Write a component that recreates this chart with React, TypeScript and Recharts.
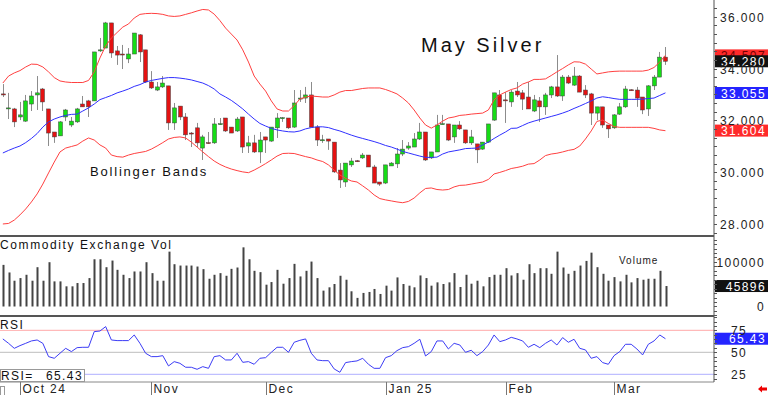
import React from 'react';
import { ComposedChart, Bar, Line, XAxis, YAxis, ReferenceLine } from 'recharts';

// daily candles, 26 Sep 2024 .. 14 Mar 2025
const openP = [33.02,32.46,32.44,32.13,31.97,32.63,32.98,33.21,32.44,31.55, 31.40,32.13,31.82,31.94,32.63,32.75,32.75,34.68,34.79,35.76, 34.68,34.56,34.37,34.56,35.30,34.72,33.48,33.17,33.29,33.33, 31.90,32.55,32.13,31.51,31.71,30.93,31.14,31.13,31.85,32.09, 31.74,31.59,32.13,31.01,31.13,30.78,31.36,31.20,31.71,32.08, 32.09,31.74,32.82,32.86,32.98,31.74,31.23,31.28,31.16,30.08, 29.62,30.28,30.44,30.55,30.66,30.20,29.62,29.58,30.24,30.32, 30.70,30.93,30.97,31.28,31.55,30.55,30.78,31.85,31.86,31.36, 31.82,31.63,31.13,31.09,30.89,31.16,32.01,32.98,32.79,32.71, 33.13,33.06,32.90,32.36,32.75,32.52,32.98,33.29,32.94,33.67, 33.36,33.71,33.17,33.02,32.28,32.52,31.82,31.71,32.24,32.52, 33.18,33.17,32.90,32.44,33.33,33.67,34.44];
const highP = [33.40,33.06,32.48,32.71,32.98,33.13,33.71,33.25,32.44,31.55, 31.97,32.44,32.13,32.48,32.94,32.79,34.64,35.18,35.80,35.76, 34.87,34.91,34.79,35.37,35.33,34.72,33.90,33.48,33.71,33.33, 32.67,32.55,32.28,31.55,31.90,31.44,31.55,32.09,32.09,32.09, 31.74,32.13,32.13,31.40,31.44,31.55,31.36,31.74,32.28,32.13, 32.09,33.17,33.17,33.29,33.48,31.82,31.44,31.28,31.16,30.35, 30.35,30.55,30.47,30.74,30.66,30.28,29.62,30.28,30.39,30.93, 31.24,31.16,31.51,31.90,31.55,30.78,32.21,32.21,31.86,31.82, 31.97,31.63,31.63,31.09,31.16,31.86,33.06,33.17,33.09,33.17, 33.48,33.17,33.48,32.98,32.90,33.06,33.33,34.52,33.75,33.75, 34.06,33.75,33.36,33.06,32.52,32.52,31.82,32.24,32.67,33.33, 33.20,33.29,32.90,33.36,33.75,34.64,34.83];
const lowP = [32.90,32.05,31.74,32.01,31.94,32.36,32.40,32.36,31.01,31.13, 31.40,31.97,31.74,31.90,32.52,32.13,32.75,34.64,34.79,34.41, 34.14,33.98,34.21,34.56,34.25,33.44,33.21,33.13,33.25,31.63, 31.63,32.01,31.24,30.97,30.97,30.47,31.09,31.09,31.82,31.55, 31.51,31.55,30.74,30.74,30.74,30.35,30.74,31.17,31.32,31.94, 31.67,31.71,32.71,32.67,31.74,31.01,31.13,30.86,29.97,29.39, 29.43,30.20,30.39,30.51,30.20,29.58,29.47,29.54,30.24,30.16, 30.62,30.86,30.97,31.24,30.43,30.51,30.78,31.84,31.20,31.13, 31.63,31.09,31.05,30.35,30.86,31.13,31.98,32.52,31.90,32.52, 32.90,32.40,32.44,32.32,31.94,32.21,32.86,32.90,32.75,33.40, 33.33,33.09,32.86,31.82,32.01,31.71,31.32,31.67,32.21,32.48, 33.14,32.52,32.24,32.17,33.17,33.67,34.14];
const closeP = [32.98,32.48,31.94,32.21,32.75,32.94,33.06,32.71,31.51,31.36, 31.94,32.40,31.97,32.44,32.52,32.52,34.64,34.72,35.76,34.60, 34.52,34.55,34.56,35.37,34.64,33.48,33.25,33.29,33.44,31.90, 32.48,32.13,31.44,31.50,31.13,31.36,31.12,31.86,31.87,31.59, 31.51,32.05,30.97,31.13,30.78,31.24,31.24,31.74,32.09,32.10, 31.71,32.67,32.86,32.98,31.74,31.24,31.25,31.20,30.01,29.70, 30.35,30.43,30.42,30.66,30.20,29.58,29.54,30.28,30.35,30.70, 30.89,31.01,31.28,31.55,30.47,30.78,31.82,31.87,31.24,31.82, 31.67,31.13,31.36,30.86,31.16,31.86,33.06,32.52,32.77,33.09, 32.98,32.82,32.44,32.79,32.52,32.98,33.29,32.94,33.67,33.44, 33.71,33.09,32.98,32.28,32.52,31.82,31.67,32.21,32.52,33.21, 33.16,32.86,32.40,33.33,33.67,34.44,34.28];

const upperBand = [33.44,33.71,33.83,33.92,34.06,34.17,34.16,34.06,33.87,33.65, 33.52,33.48,33.46,33.46,33.46,33.54,33.87,34.41,34.87,35.18, 35.39,35.60,35.72,35.95,36.09,36.12,36.13,36.12,36.09,36.03, 36.01,36.03,36.09,36.15,36.22,36.28,36.26,36.10,35.85,35.56, 35.33,35.10,34.72,34.25,33.71,33.40,33.13,32.75,32.44,32.36, 32.36,32.57,32.82,32.90,32.94,32.92,32.90,32.90,32.98,33.09, 33.15,33.15,33.19,33.23,33.25,33.25,33.25,33.19,33.11,33.02, 32.86,32.67,32.40,32.09,31.82,31.70,31.82,31.97,32.09,32.13, 32.19,32.21,32.24,32.26,32.28,32.40,32.79,32.98,33.09,33.19, 33.25,33.40,33.48,33.58,33.58,33.60,33.73,33.87,34.00,34.14, 34.26,34.25,34.17,33.98,33.79,33.83,33.87,33.89,33.90,33.90, 33.90,33.90,33.90,33.94,34.04,34.25,34.51];
const midBand = [30.74,30.84,30.93,31.01,31.14,31.30,31.49,31.74,31.94,32.05, 32.13,32.19,32.23,32.24,32.36,32.48,32.63,32.80,32.88,32.96, 33.06,33.13,33.21,33.31,33.38,33.48,33.54,33.58,33.62,33.65, 33.65,33.63,33.60,33.56,33.50,33.44,33.34,33.21,33.02,32.90, 32.77,32.61,32.44,32.24,32.05,31.88,31.78,31.69,31.63,31.59, 31.56,31.55,31.59,31.67,31.72,31.75,31.75,31.72,31.65,31.59, 31.51,31.43,31.36,31.30,31.24,31.18,31.11,31.03,30.97,30.89, 30.80,30.74,30.68,30.62,30.57,30.57,30.58,30.70,30.78,30.82, 30.86,30.91,30.92,30.93,31.05,31.16,31.30,31.43,31.55,31.69, 31.70,31.80,31.90,31.97,32.03,32.09,32.15,32.21,32.28,32.36, 32.46,32.55,32.65,32.75,32.86,32.91,32.88,32.84,32.81,32.81, 32.81,32.81,32.82,32.84,32.86,32.96,33.06];
const lowerBand = [28.00,28.02,28.15,28.35,28.58,28.85,29.16,29.54,29.97,30.39, 30.78,30.93,30.99,31.05,31.20,31.32,31.24,31.05,30.93,30.66, 30.60,30.58,30.66,30.72,30.76,30.80,30.89,31.01,31.14,31.28, 31.34,31.36,31.32,31.16,30.97,30.78,30.60,30.43,30.30,30.20, 30.12,30.06,30.01,29.98,30.08,30.20,30.33,30.47,30.62,30.72, 30.73,30.72,30.66,30.60,30.55,30.47,30.41,30.28,30.08,29.89, 29.76,29.66,29.62,29.47,29.31,29.12,28.98,28.93,28.89,28.85, 28.82,28.87,29.00,29.20,29.37,29.39,29.33,29.31,29.33,29.43, 29.49,29.50,29.54,29.58,29.62,29.72,29.93,29.99,30.06,30.14, 30.18,30.23,30.31,30.33,30.47,30.64,30.70,30.73,30.78,30.84, 30.88,31.01,31.28,31.59,31.96,32.01,31.88,31.76,31.73,31.73, 31.73,31.73,31.73,31.73,31.69,31.63,31.60];

const volume = [93300,76300,57800,63700,71100,57800,88100,57800,99300,56300, 56300,45200,45200,52600,52600,63700,105900,105900,88100,103000, 82200,71100,63700,78500,78500,99300,74800,57800,57800,123000, 94800,91800,91800,91800,89600,83700,62200,71100,74800,68900, 84400,87400,132600,105900,80000,77000,48900,54800,82200,51100, 63700,95600,67400,80000,100700,63700,35600,43000,50400,68900, 60000,34100,19300,30400,32600,39300,28100,46700,35600,65200, 50400,46700,43000,69600,63700,46700,54100,50400,54100,74800, 43700,71100,51100,57800,45200,65900,71100,71100,85900,69600, 74800,60000,94800,74800,85900,85900,73300,123000,87400,73300, 80000,91800,102200,120700,88100,73300,57800,65900,56300,71100, 54100,63700,60000,62200,62200,80000,45896];

const rsi = [65.2,60.2,54.5,57.6,60.2,62.9,64.0,60.2,45.1,43.2, 48.9,54.5,50.8,55.3,55.7,55.7,73.5,74.2,79.2,64.0, 63.3,63.3,63.3,69.7,60.2,48.9,45.1,45.1,46.2,34.5, 39.4,37.5,33.0,33.0,30.7,33.7,31.8,45.1,46.2,41.3, 41.3,48.9,38.6,39.4,36.4,43.2,43.9,50.0,55.7,55.7, 50.0,61.4,63.6,65.2,48.9,41.3,40.5,40.5,31.1,27.3, 38.3,39.4,40.2,43.2,36.4,31.8,31.8,43.9,46.2,51.9, 55.3,56.4,60.2,64.8,45.8,50.8,62.9,62.9,53.8,60.2, 58.3,50.0,52.3,46.2,50.8,58.3,69.7,62.1,64.0,67.0, 65.2,62.9,55.7,59.1,55.3,60.2,64.0,58.3,66.7,61.4, 64.8,54.5,52.7,43.2,45.1,38.3,36.4,46.2,50.8,59.1, 59.1,53.8,47.0,59.1,62.9,69.7,65.43];

// x axis: index of first session of each month
const monthIdx = [3, 26, 46, 67, 88, 107];
const monthLabels = ['Oct 24', 'Nov', 'Dec', 'Jan 25', 'Feb', 'Mar'];
const priceLabels = [28, 30, 32, 34, 36];
const volLabels = [0, 100000];
const rsiLabels = [25, 50, 75];

const SLOTS = 125; // 117 sessions + empty space on the right
const FONT = '"Liberation Sans", Arial, sans-serif';

const rows = Array.from({ length: SLOTS }, (_, i) =>
  i < openP.length
    ? { i, o: openP[i], h: highP[i], l: lowP[i], c: closeP[i], up: upperBand[i], mid: midBand[i], lo: lowerBand[i], vol: volume[i], rsi: rsi[i] }
    : { i }
);

const priceMinor: number[] = [];
for (let k = 83; k <= 109; k++) priceMinor.push(k / 3);
const volMinor: number[] = [];
for (let k = -2; k <= 15; k++) volMinor.push(k * 10000);
const rsiMinor: number[] = [];
for (let k = 4; k <= 18; k++) rsiMinor.push(k * 5);

const axisText = { fontFamily: FONT, fontSize: 12, letterSpacing: 1.4, fill: '#222' };

const Candle = (p: any) => {
  const r = p.payload;
  if (!r || r.o == null || !p.height) return null;
  const span = r.h - r.l || 1;
  const h = Math.abs(p.height);
  const top = Math.min(p.y, p.y + p.height);
  const py = (v: number) => top + ((r.h - v) / span) * h;
  const cx = Math.round(p.x + p.width / 2);
  const bTop = py(Math.max(r.o, r.c));
  const bBot = py(Math.min(r.o, r.c));
  const upDay = r.c >= r.o;
  return (
    <g>
      <line x1={cx + 0.5} x2={cx + 0.5} y1={top} y2={top + h} stroke="#8c8c8c" />
      <rect x={cx - 1.5} y={bTop} width={4} height={Math.max(bBot - bTop, 1)}
        fill={upDay ? '#16dc16' : '#e41212'} stroke="#404040" strokeWidth={0.5} />
    </g>
  );
};

const VolBar = (p: any) => {
  if (!p.payload || p.payload.vol == null) return null;
  const cx = Math.round(p.x + p.width / 2);
  const top = Math.min(p.y, p.y + p.height);
  return <rect x={cx - 0.5} y={top} width={2} height={Math.abs(p.height)} fill="#444" />;
};

const makeTick = (labels: number[], fmt: (v: number) => string, anchorEnd: boolean) => (p: any) => {
  const v = p.payload.value;
  const y = Math.round(p.y) + 0.5;
  const show = labels.some((l) => Math.abs(l - v) < 1e-6);
  return (
    <g>
      <line x1={p.x} x2={p.x + 3} y1={y} y2={y} stroke="#555" />
      {show && (
        <text x={anchorEnd ? p.x + 51 : p.x + 17} y={y + 4.5} textAnchor={anchorEnd ? 'end' : 'start'} {...axisText}>
          {fmt(v)}
        </text>
      )}
    </g>
  );
};

const tag = (bg: string, fg: string, text: string) => (p: any) => {
  const vb = p.viewBox || {};
  const x = (vb.x || 0) + (vb.width || 0);
  const y = vb.y || 0;
  return (
    <g>
      <rect x={x + 1} y={y - 6} width={54} height={12} fill={bg} />
      <text x={x + 52} y={y + 4.5} textAnchor="end" {...axisText} fill={fg}>{text}</text>
    </g>
  );
};

const MonthTick = (p: any) => {
  const k = monthIdx.indexOf(p.payload.value);
  const x = Math.round(p.x) + 0.5;
  return (
    <g>
      <line x1={x} x2={x} y1={p.y} y2={p.y + 13} stroke="#777" />
      <text x={x + 2} y={p.y + 11} {...axisText}>{monthLabels[k]}</text>
    </g>
  );
};

const noMargin = { top: 0, right: 0, left: 0, bottom: 0 };

export default function App() {
  return (
    <div style={{ position: 'relative', width: 768, height: 395, background: '#fff', overflow: 'hidden' }}>
      <style>{'body{margin:0}'}</style>

      <div style={{ position: 'absolute', left: 0, top: 0 }}>
        <ComposedChart width={768} height={237} data={rows} margin={noMargin}>
          <XAxis dataKey="i" type="category" scale="band" hide />
          <YAxis orientation="right" width={54} type="number" domain={[27.497, 36.645]} allowDataOverflow
            ticks={priceMinor} interval={0} tickSize={0} tickMargin={0} tickLine={false}
            axisLine={{ stroke: '#505050' }} tick={makeTick(priceLabels, (v) => v.toFixed(3), true)} />
          <Bar dataKey={(r: any) => (r.o == null ? null : [r.l, r.h])} barSize={5} shape={Candle} activeBar={false} isAnimationActive={false} />
          <Line dataKey="up" stroke="#ff4040" strokeWidth={1} dot={false} activeDot={false} isAnimationActive={false} />
          <Line dataKey="mid" stroke="#3030ff" strokeWidth={1} dot={false} activeDot={false} isAnimationActive={false} />
          <Line dataKey="lo" stroke="#ff4040" strokeWidth={1} dot={false} activeDot={false} isAnimationActive={false} />
          <ReferenceLine y={34.507} stroke="none" label={tag('#ff2a2a', '#700', '34.507')} />
          <ReferenceLine y={34.28} stroke="none" label={tag('#111', '#fff', '34.280')} />
          <ReferenceLine y={33.055} stroke="none" label={tag('#2424ff', '#fff', '33.055')} />
          <ReferenceLine y={31.604} stroke="none" label={tag('#ff2a2a', '#fff', '31.604')} />
        </ComposedChart>
      </div>

      <div style={{ position: 'absolute', left: 0, top: 237 }}>
        <ComposedChart width={768} height={79} data={rows} margin={noMargin}>
          <XAxis dataKey="i" type="category" scale="band" hide />
          <YAxis orientation="right" width={54} type="number" domain={[-21300, 155800]} allowDataOverflow
            ticks={volMinor} interval={0} tickSize={0} tickMargin={0} tickLine={false}
            axisLine={{ stroke: '#505050' }} tick={makeTick(volLabels, (v) => String(v), true)} />
          <Bar dataKey="vol" barSize={2} shape={VolBar} activeBar={false} isAnimationActive={false} />
          <ReferenceLine y={45896} stroke="none" label={tag('#111', '#fff', '45896')} />
        </ComposedChart>
      </div>

      <div style={{ position: 'absolute', left: 0, top: 316 }}>
        <ComposedChart width={768} height={79} data={rows} margin={noMargin}>
          <XAxis dataKey="i" type="category" scale="band" height={13} ticks={monthIdx} interval={0}
            tickSize={0} tickMargin={0} tickLine={false} axisLine={{ stroke: '#888' }} tick={MonthTick} />
          <YAxis orientation="right" width={54} type="number" domain={[16.25, 91.25]} allowDataOverflow
            ticks={rsiMinor} interval={0} tickSize={0} tickMargin={0} tickLine={false}
            axisLine={{ stroke: '#505050' }} tick={makeTick(rsiLabels, (v) => String(v), false)} />
          <ReferenceLine y={75} stroke="#ffa8a8" />
          <ReferenceLine y={50} stroke="#bdbdbd" />
          <ReferenceLine y={25} stroke="#b0b0ff" />
          <Bar dataKey="rsi" fill="none" activeBar={false} isAnimationActive={false} />
          <Line dataKey="rsi" stroke="#3c3cf5" strokeWidth={1} dot={false} activeDot={false} isAnimationActive={false} />
          <ReferenceLine y={65.43} stroke="none" label={tag('#2424ff', '#fff', '65.43')} />
        </ComposedChart>
      </div>

      <svg width={768} height={395} style={{ position: 'absolute', left: 0, top: 0, pointerEvents: 'none' }}>
        <text x={421} y={52} fontFamily={FONT} fontSize={20} letterSpacing={3} fill="#111">May Silver</text>
        <text x={90} y={176} fontFamily={FONT} fontSize={13} letterSpacing={1.8} fill="#111">Bollinger Bands</text>
        <rect x={0} y={235} width={714} height={2} fill="#555" />
        <text x={0} y={249} fontFamily={FONT} fontSize={12} letterSpacing={1.6} fill="#111">Commodity Exchange Vol</text>
        <text x={619} y={264} fontFamily={FONT} fontSize={10} letterSpacing={1} fill="#222">Volume</text>
        <rect x={0} y={315} width={714} height={2} fill="#555" />
        <rect x={0} y={318} width={21} height={12} fill="#fff" />
        <text x={0} y={329} fontFamily={FONT} fontSize={12} letterSpacing={1.4} fill="#111">RSI</text>
        <rect x={0.5} y={369.5} width={84} height={12} fill="#fff" stroke="#999" />
        <text x={1} y={380} fontFamily={FONT} fontSize={12} letterSpacing={1.4} fill="#111">RSI=</text>
        <text x={83} y={380} textAnchor="end" fontFamily={FONT} fontSize={12} letterSpacing={1.4} fill="#111">65.43</text>
        <rect x={0.5} y={386.5} width={4} height={9} fill="none" stroke="#999" />
        <polygon points="758,389 762,385.5 762,387.5 767,387.5 767,390.5 762,390.5 762,392.5" fill="#e00" />
      </svg>
    </div>
  );
}
